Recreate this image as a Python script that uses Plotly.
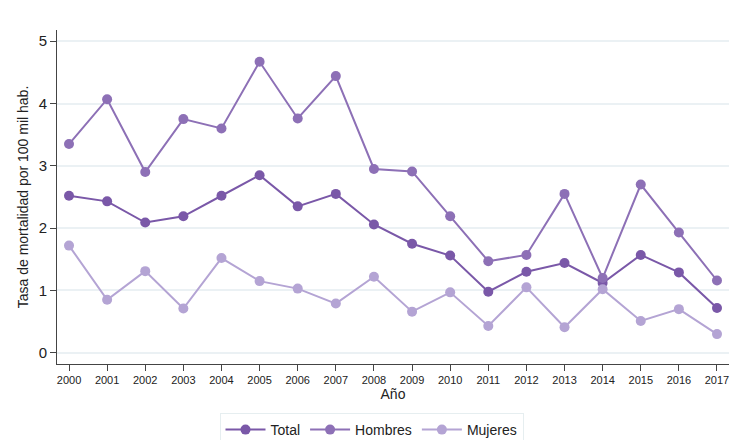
import plotly.graph_objects as go

years = list(range(2000, 2018))
total = [2.52, 2.43, 2.09, 2.19, 2.52, 2.85, 2.35, 2.55, 2.06, 1.75, 1.56, 0.98, 1.30, 1.44, 1.12, 1.57, 1.29, 0.72]
hombres = [3.35, 4.07, 2.90, 3.75, 3.60, 4.67, 3.76, 4.44, 2.95, 2.91, 2.19, 1.47, 1.57, 2.55, 1.20, 2.70, 1.93, 1.16]
mujeres = [1.72, 0.85, 1.31, 0.71, 1.52, 1.15, 1.03, 0.79, 1.22, 0.66, 0.97, 0.43, 1.05, 0.41, 1.02, 0.51, 0.70, 0.30]
tick_labels = [str(y) for y in years]

series = [
    ("Total", total, "#7a58a8"),
    ("Hombres", hombres, "#8d70b6"),
    ("Mujeres", mujeres, "#b4a4d4"),
]

fig = go.Figure()
for name, vals, col in series:
    fig.add_trace(go.Scatter(
        x=years, y=vals, name=name, mode="lines+markers",
        line=dict(color=col, width=2),
        marker=dict(color=col, size=10),
    ))

W, H = 731, 432
font = "Liberation Sans, Arial, sans-serif"
fig.update_layout(
    width=W, height=H,
    margin=dict(l=49, r=10, t=22, b=76, autoexpand=False),
    paper_bgcolor="white", plot_bgcolor="white",
    font=dict(family=font, color="#222222", size=14),
    showlegend=True,
    legend=dict(
        orientation="h", xref="container", yref="container",
        x=(371.5 - 8) / W, xanchor="center", y=1 - 405 / H, yanchor="top",
        bordercolor="#e6eef0", borderwidth=1,
        font=dict(size=14, color="#222222"),
        itemwidth=40,
    ),
    xaxis=dict(
        range=[1999.685, 2017.315], tickmode="array", tickvals=years, ticktext=tick_labels,
        showgrid=False, showline=True, linecolor="#444444", linewidth=1,
        ticks="outside", ticklen=6, tickcolor="#444444",
        tickfont=dict(size=11), zeroline=False, automargin=False,
        title=dict(text="Año", font=dict(size=14), standoff=2),
    ),
    yaxis=dict(
        range=[-0.18, 5.18], tickvals=[0, 1, 2, 3, 4, 5],
        showgrid=True, gridcolor="#ebf1f4", gridwidth=1.5,
        showline=True, linecolor="#444444", linewidth=1,
        ticks="outside", ticklen=6, tickcolor="#444444",
        tickfont=dict(size=15), zeroline=False, automargin=False,
        title=dict(text="Tasa de mortalidad por 100 mil hab.", font=dict(size=14), standoff=6),
    ),
)

fig.write_html("out.html")
